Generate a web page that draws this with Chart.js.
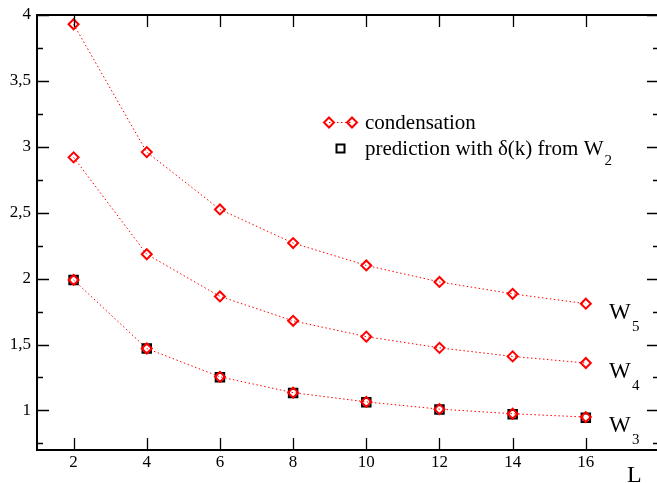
<!DOCTYPE html>
<html>
<head>
<meta charset="utf-8">
<script src="https://cdn.jsdelivr.net/npm/chart.js@4.4.1/dist/chart.umd.min.js"></script>
<style>
  html, body { margin: 0; padding: 0; background: #fff; overflow: hidden; width: 657px; height: 483px; }
  canvas { display: block; }
</style>
</head>
<body>
<canvas id="c" width="659" height="483" style="width:659px;height:483px"></canvas>
<script>
/* ---------- data ---------- */
const sizesL = [2, 4, 6, 8, 10, 12, 14, 16];
const condW5 = [3.93, 2.96, 2.525, 2.27, 2.10, 1.975, 1.885, 1.81];
const condW4 = [2.92, 2.185, 1.865, 1.68, 1.56, 1.475, 1.41, 1.36];
const condW3 = [1.99, 1.47, 1.255, 1.135, 1.065, 1.01, 0.975, 0.95];
const predW3 = [1.99, 1.47, 1.252, 1.133, 1.062, 1.008, 0.972, 0.945];
const xTicks = [2, 4, 6, 8, 10, 12, 14, 16];
const yTicks = [1, 1.5, 2, 2.5, 3, 3.5, 4];
const yMinorTicks = [0.75, 1.25, 1.75, 2.25, 2.75, 3.25, 3.75];
const curveLabels = [{ name: 'W', sub: '5', v: condW5 }, { name: 'W', sub: '4', v: condW4 }, { name: 'W', sub: '3', v: condW3 }];

const SERIF = "'Liberation Serif', 'DejaVu Serif', serif";
const RED = '#ff0000';

const pts = arr => sizesL.map((x, i) => ({ x, y: arr[i] }));

function condSet(arr) {
  return {
    data: pts(arr), order: 0,
    showLine: true, borderColor: RED, borderWidth: 1, borderDash: [1.5, 2.5],
    pointStyle: 'rectRot', pointRadius: 5, pointBorderWidth: 2,
    pointBorderColor: RED, pointBackgroundColor: 'rgba(0,0,0,0)', tension: 0
  };
}

// kill the label overflow padding so the plot box sits where the reference has it
function noPad(s) { s.paddingLeft = 0; s.paddingRight = 0; s.paddingTop = 0; s.paddingBottom = 0; }

/* frame, inward ticks, legend and curve names */
const decor = {
  id: 'decor',
  afterDraw(chart) {
    const { ctx, chartArea: a, scales: { x, y } } = chart;
    ctx.save();
    ctx.strokeStyle = '#000';
    ctx.lineWidth = 1.3;
    ctx.beginPath();
    xTicks.forEach(v => {
      const px = Math.round(x.getPixelForValue(v)) + 0.5;
      ctx.moveTo(px, a.bottom); ctx.lineTo(px, a.bottom - 12);
      ctx.moveTo(px, a.top); ctx.lineTo(px, a.top + 12);
    });
    yTicks.forEach(v => {
      const py = Math.round(y.getPixelForValue(v)) + 0.5;
      ctx.moveTo(a.left, py); ctx.lineTo(a.left + 12, py);
      ctx.moveTo(a.right, py); ctx.lineTo(a.right - 12, py);
    });
    yMinorTicks.forEach(v => {
      const py = Math.round(y.getPixelForValue(v)) + 0.5;
      ctx.moveTo(a.left, py); ctx.lineTo(a.left + 6, py);
      ctx.moveTo(a.right, py); ctx.lineTo(a.right - 6, py);
    });
    ctx.stroke();
    ctx.lineWidth = 2;
    ctx.strokeRect(a.left, a.top, a.right - a.left, a.bottom - a.top);

    // legend
    const diamond = (cx, cy) => {
      ctx.beginPath();
      ctx.moveTo(cx, cy - 5); ctx.lineTo(cx + 5, cy); ctx.lineTo(cx, cy + 5); ctx.lineTo(cx - 5, cy);
      ctx.closePath(); ctx.stroke();
    };
    ctx.strokeStyle = RED; ctx.lineWidth = 1; ctx.setLineDash([1.5, 2.5]);
    ctx.beginPath(); ctx.moveTo(329, 122.5); ctx.lineTo(352, 122.5); ctx.stroke();
    ctx.setLineDash([]); ctx.lineWidth = 2;
    diamond(329, 122.5); diamond(352, 122.5);
    ctx.strokeStyle = '#000';
    ctx.strokeRect(336.5, 144.5, 8, 8);

    ctx.fillStyle = '#000';
    ctx.textBaseline = 'alphabetic';
    ctx.textAlign = 'left';
    ctx.font = '21px ' + SERIF;
    ctx.fillText('condensation', 365, 129);
    const t2 = 'prediction with \u03b4(k) from W';
    ctx.fillText(t2, 365, 155);
    const w2 = ctx.measureText(t2).width;
    ctx.font = '15px ' + SERIF;
    ctx.fillText('2', 365 + w2 + 1, 165);

    // curve names to the right of the last point
    curveLabels.forEach(c => {
      const py = y.getPixelForValue(c.v[c.v.length - 1]);
      ctx.font = '23px ' + SERIF;
      ctx.fillText(c.name, 609, py + 15);
      ctx.font = '15px ' + SERIF;
      ctx.fillText(c.sub, 632, py + 27);
    });

    ctx.font = '24px ' + SERIF;
    ctx.fillText('L', 627, 482);
    ctx.restore();
  }
};

new Chart(document.getElementById('c'), {
  type: 'scatter',
  data: {
    datasets: [
      {
        data: pts(predW3), order: 1, showLine: false,
        pointStyle: 'rect', pointRadius: 6, pointBorderWidth: 2,
        pointBorderColor: '#000', pointBackgroundColor: 'rgba(0,0,0,0)'
      },
      condSet(condW5), condSet(condW4), condSet(condW3)
    ]
  },
  options: {
    responsive: false,
    animation: false,
    layout: { autoPadding: false, padding: { top: 15, right: 0, bottom: 0, left: 0 } },
    plugins: { legend: { display: false }, tooltip: { enabled: false } },
    scales: {
      x: {
        type: 'linear', min: 1, max: 18,
        grid: { display: false, drawTicks: false }, border: { display: false },
        afterBuildTicks: s => { s.ticks = xTicks.map(v => ({ value: v })); },
        afterFit: s => { s.height = 33; noPad(s); },
        ticks: { color: '#000', padding: 2, font: { family: SERIF, size: 17 } }
      },
      y: {
        type: 'linear', min: 0.7, max: 4,
        grid: { display: false, drawTicks: false }, border: { display: false },
        afterBuildTicks: s => { s.ticks = yTicks.map(v => ({ value: v })); },
        afterFit: s => { s.width = 37; noPad(s); },
        ticks: {
          color: '#000', padding: 6, font: { family: SERIF, size: 17 },
          callback: v => String(v).replace('.', ',')
        }
      }
    }
  },
  plugins: [decor]
});
</script>
</body>
</html>
